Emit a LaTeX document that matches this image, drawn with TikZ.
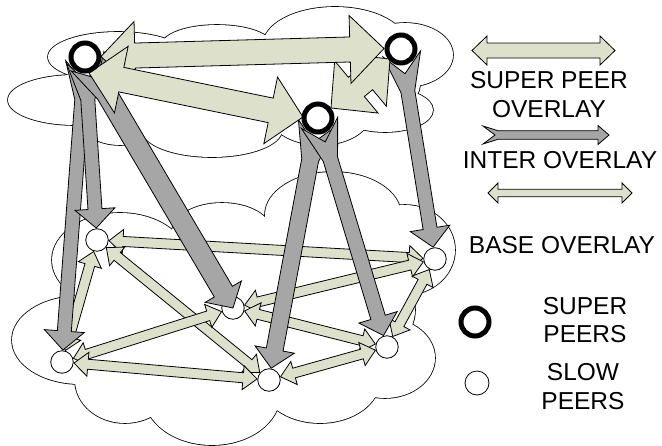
\documentclass[tikz,border=0pt]{standalone}
\usepackage{fontspec}
\setmainfont{Liberation Sans}
\usetikzlibrary{calc}
\definecolor{sage}{RGB}{221,225,204}
\definecolor{grayarr}{RGB}{166,166,166}
\tikzset{
  sagefill/.style={fill=sage, draw=black, line width=0.8pt, line join=miter},
  grayfill/.style={fill=grayarr, draw=black, line width=0.8pt, line join=miter},
  superpeer/.style={circle, draw=black, fill=white, line width=5pt, minimum size=28pt, inner sep=0pt},
  slowpeer/.style={circle, draw=black, fill=white, line width=0.8pt, minimum size=22.5pt, inner sep=0pt},
  legtext/.style={font=\fontsize{24.5}{28.5}\selectfont, align=center, inner sep=0pt},
  cloudline/.style={draw=black, line width=1.6pt},
}
% double headed block arrow: #1 style, #2 start, #3 end, #4 shaft half width, #5 head half width, #6 head length
\newcommand{\dblarrow}[6]{%
  \filldraw[#1] (#2)
   -- ($(#2)!#6!(#3)!#5!90:(#3)$)
   -- ($(#2)!#6!(#3)!#4!90:(#3)$)
   -- ($(#3)!#6!(#2)!#4!-90:(#2)$)
   -- ($(#3)!#6!(#2)!#5!-90:(#2)$)
   -- (#3)
   -- ($(#3)!#6!(#2)!#5!90:(#2)$)
   -- ($(#3)!#6!(#2)!#4!90:(#2)$)
   -- ($(#2)!#6!(#3)!#4!-90:(#3)$)
   -- ($(#2)!#6!(#3)!#5!-90:(#3)$)
   -- cycle;}
% notched block arrow: #1 tail, #2 tip, #3 shaft half, #4 head half, #5 head length, #6 flare half, #7 flare length, #8 notch depth
\newcommand{\interarrow}[8]{%
  \filldraw[grayfill] (#2)
   -- ($(#2)!#5!(#1)!#4!90:(#1)$)
   -- ($(#2)!#5!(#1)!#3!90:(#1)$)
   -- ($(#1)!#7!(#2)!#3!-90:(#2)$)
   -- ($(#1)!#6!-90:(#2)$)
   -- ($(#1)!#8!(#2)$)
   -- ($(#1)!#6!90:(#2)$)
   -- ($(#1)!#7!(#2)!#3!90:(#2)$)
   -- ($(#2)!#5!(#1)!#3!-90:(#1)$)
   -- ($(#2)!#5!(#1)!#4!-90:(#1)$)
   -- cycle;}
\begin{document}
\begin{tikzpicture}[x=1pt,y=-1pt]
\useasboundingbox (0,0) rectangle (662,445);
% ---------- clouds ----------
\foreach \cx/\cy/\rx/\ry in {250/85/170/50, 75/100/67/25, 118/57/70/25, 217/45/55/20, 335/45/72/38, 405/55/48/32, 385/110/48/22, 320/115/50/30, 212/130/70/27, 120/120/40/25}
  \draw[cloudline] (\cx,\cy) ellipse [x radius=\rx pt, y radius=\ry pt];
\foreach \cx/\cy/\rx/\ry in {250/85/170/50, 75/100/67/25, 118/57/70/25, 217/45/55/20, 335/45/72/38, 405/55/48/32, 385/110/48/22, 320/115/50/30, 212/130/70/27, 120/120/40/25}
  \fill[white] (\cx,\cy) ellipse [x radius=\rx pt, y radius=\ry pt];
\foreach \cx/\cy/\rx/\ry in {250/310/165/80, 120/260/68/47, 222/232/50/29, 333/215/68/43, 405/250/50/45, 385/358/50/40, 320/380/60/43, 212/395/68/50, 125/380/50/43, 80/340/68/44}
  \draw[cloudline] (\cx,\cy) ellipse [x radius=\rx pt, y radius=\ry pt];
\foreach \cx/\cy/\rx/\ry in {250/310/165/80, 120/260/68/47, 222/232/50/29, 333/215/68/43, 405/250/50/45, 385/358/50/40, 320/380/60/43, 212/395/68/50, 125/380/50/43, 80/340/68/44}
  \fill[white] (\cx,\cy) ellipse [x radius=\rx pt, y radius=\ry pt];
% ---------- peer positions ----------
\coordinate (SP1c) at (85,57);
\coordinate (SP2c) at (401,49);
\coordinate (SP3c) at (318,118);
\coordinate (A) at (97,240);
\coordinate (B) at (435,259);
\coordinate (C) at (233,308);
\coordinate (D) at (62,362);
\coordinate (E) at (269,380);
\coordinate (F) at (387,347);
% ---------- base overlay ----------
\foreach \u/\v in {A/B, B/C, C/F, A/E, A/D, D/C, D/E, E/F, F/B}{
  \coordinate (s-\u\v) at ($(\u)!12pt!(\v)$);
  \coordinate (t-\u\v) at ($(\v)!12pt!(\u)$);
  \dblarrow{sagefill}{s-\u\v}{t-\u\v}{5pt}{12pt}{14pt}
}
\foreach \p in {A,B,C,D,E,F}
  \node[slowpeer] (n\p) at (\p) {};
% ---------- inter overlay ----------
\coordinate (g1s) at ($(SP1c)!5pt!(D)$);  \coordinate (g1e) at ($(D)!12pt!(SP1c)$);
\coordinate (g2s) at ($(SP1c)!5pt!(A)$);  \coordinate (g2e) at ($(A)!12pt!(SP1c)$);
\coordinate (g3s) at ($(SP1c)!5pt!(C)$);  \coordinate (g3e) at (C);
\coordinate (g4s) at ($(SP3c)!5pt!(E)$);  \coordinate (g4e) at ($(E)!12pt!(SP3c)$);
\coordinate (g5s) at ($(SP3c)!5pt!(F)$);  \coordinate (g5e) at ($(F)!12pt!(SP3c)$);
\coordinate (g6s) at ($(SP2c)!5pt!(B)$);  \coordinate (g6e) at ($(B)!12pt!(SP2c)$);
\interarrow{g1s}{g1e}{7pt}{20pt}{19pt}{19pt}{38pt}{20pt}
\interarrow{g2s}{g2e}{7pt}{20pt}{19pt}{19pt}{38pt}{20pt}
\interarrow{g3s}{g3e}{10.5pt}{21pt}{19pt}{19pt}{38pt}{20pt}
\interarrow{g4s}{g4e}{8.5pt}{20pt}{19pt}{19pt}{38pt}{20pt}
\interarrow{g5s}{g5e}{7.5pt}{20pt}{19pt}{19pt}{38pt}{20pt}
\interarrow{g6s}{g6e}{7pt}{20pt}{19pt}{19pt}{38pt}{20pt}
% ---------- super peer overlay ----------
\coordinate (b3s) at (331,108); \coordinate (b3e) at (390,59);
\coordinate (b1s) at (101,56.5); \coordinate (b1e) at (384,48.5);
\coordinate (b2s) at (89,73); \coordinate (b2e) at (303,117);
\dblarrow{sagefill}{b3s}{b3e}{12.5pt}{34pt}{33pt}
\dblarrow{sagefill}{b1s}{b1e}{12.5pt}{34pt}{34pt}
\dblarrow{sagefill}{b2s}{b2e}{12.5pt}{34pt}{33pt}
\node[superpeer] (SP1) at (SP1c) {};
\node[superpeer] (SP2) at (SP2c) {};
\node[superpeer] (SP3) at (SP3c) {};
% ---------- legend ----------
\coordinate (l1a) at (472,50.5); \coordinate (l1b) at (615,50.5);
\dblarrow{sagefill}{l1a}{l1b}{7.5pt}{14.5pt}{15pt}
\node[legtext] (t1) at (549,94.5) {SUPER PEER\\OVERLAY};
\coordinate (l2a) at (483,135); \coordinate (l2b) at (609,135);
\interarrow{l2a}{l2b}{4.3pt}{9.5pt}{11pt}{9pt}{15pt}{12pt}
\node[legtext] (t2) at (560,160) {INTER OVERLAY};
\coordinate (l3a) at (488,193); \coordinate (l3b) at (632,193);
\dblarrow{sagefill}{l3a}{l3b}{3.7pt}{10pt}{10pt}
\node[legtext] (t3) at (562,245.5) {BASE OVERLAY};
\node[superpeer] (lsp) at (475,322) {};
\node[legtext] (t4) at (585,320) {SUPER\\PEERS};
\node[slowpeer, minimum size=24pt] (lsl) at (477,383) {};
\node[legtext] (t5) at (583,386.5) {SLOW\\PEERS};
\end{tikzpicture}
\end{document}
